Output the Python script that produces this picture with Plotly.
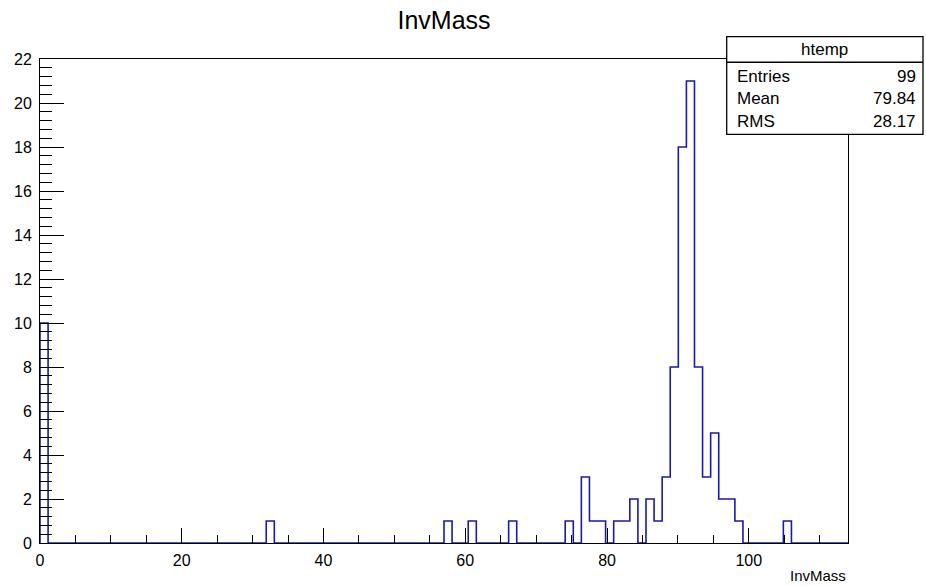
import plotly.graph_objects as go

# ---- data ----
x_min = 0.0
x_max = 114.0
n_bins = 100
counts = [
    10, 0, 0, 0, 0, 0, 0, 0, 0, 0,
    0, 0, 0, 0, 0, 0, 0, 0, 0, 0,
    0, 0, 0, 0, 0, 0, 0, 0, 1, 0,
    0, 0, 0, 0, 0, 0, 0, 0, 0, 0,
    0, 0, 0, 0, 0, 0, 0, 0, 0, 0,
    1, 0, 0, 1, 0, 0, 0, 0, 1, 0,
    0, 0, 0, 0, 0, 1, 0, 3, 1, 1,
    0, 1, 1, 2, 0, 2, 1, 3, 8, 18,
    21, 8, 3, 5, 2, 2, 1, 0, 0, 0,
    0, 0, 1, 0, 0, 0, 0, 0, 0, 0,
]
stats_name = "htemp"
stats_labels = ["Entries", "Mean", "RMS"]
stats_values = ["99", "79.84", "28.17"]
title_text = "InvMass"
xaxis_title = "InvMass"

# ---- build step outline ----
bw = (x_max - x_min) / n_bins
edges = [x_min + i * bw for i in range(n_bins + 1)]
xs = [edges[0]] + edges
ys = [0] + counts + [0]

FONT = "Liberation Sans, Arial, Helvetica, sans-serif"

fig = go.Figure()
fig.add_trace(go.Scatter(
    x=xs, y=ys, mode="lines", line=dict(shape="hv", color="#1a1aa6", width=1.6),
    hoverinfo="skip", showlegend=False,
))

W, H = 926, 586
L, R, T, B = 40, 848, 59, 543
pw, ph = R - L, B - T

def px(xp):
    return (xp - L) / pw

def py(yp):
    return (B - yp) / ph

fig.update_layout(
    width=W, height=H,
    margin=dict(l=L, r=W - R, t=T, b=H - B, autoexpand=False),
    paper_bgcolor="white", plot_bgcolor="white",
    font=dict(family=FONT, size=16, color="black"),
    title=dict(text=title_text, x=0.5, xref="paper",
               y=1 - 20 / H, yref="container", xanchor="center", yanchor="middle",
               font=dict(size=25, family=FONT, color="black")),
    showlegend=False,
)

fig.update_xaxes(
    range=[x_min, x_max], showgrid=False, zeroline=False, automargin=False,
    showline=True, linecolor="black", linewidth=1, mirror=True,
    ticks="inside", ticklen=15, tickwidth=1, tickcolor="black",
    tick0=0, dtick=20, ticklabelstandoff=3,
    minor=dict(ticks="inside", ticklen=8, tickwidth=1, tickcolor="black", dtick=5, showgrid=False),
    tickfont=dict(size=16, family=FONT, color="black"),
)
fig.update_yaxes(
    range=[0, 22], showgrid=False, zeroline=False, automargin=False,
    showline=True, linecolor="black", linewidth=1, mirror=True,
    ticks="inside", ticklen=24, tickwidth=1, tickcolor="black",
    tick0=0, dtick=2, ticklabelstandoff=4,
    minor=dict(ticks="inside", ticklen=12, tickwidth=1, tickcolor="black", dtick=0.4, showgrid=False),
    tickfont=dict(size=16, family=FONT, color="black"),
)

# stats box
bx0, bx1, by0, by1, bdiv = 726.7, 923, 36.7, 134.3, 62.3
fig.add_shape(type="rect", xref="paper", yref="paper",
              x0=px(bx0), x1=px(bx1), y0=py(by1), y1=py(by0),
              line=dict(color="black", width=1.3), fillcolor="white", layer="above")
fig.add_shape(type="line", xref="paper", yref="paper",
              x0=px(bx0), x1=px(bx1), y0=py(bdiv), y1=py(bdiv),
              line=dict(color="black", width=1.5), layer="above")

fig.add_annotation(text=stats_name, xref="paper", yref="paper",
                   x=px((bx0 + bx1) / 2), y=py(50), xanchor="center", yanchor="middle",
                   showarrow=False, font=dict(size=17, family=FONT, color="black"))
row_y = [76, 99, 122]
for lab, val, yy in zip(stats_labels, stats_values, row_y):
    fig.add_annotation(text=lab, xref="paper", yref="paper", x=px(735), y=py(yy),
                       xanchor="left", yanchor="middle", showarrow=False,
                       font=dict(size=17, family=FONT, color="black"))
    fig.add_annotation(text=val, xref="paper", yref="paper", x=px(918), y=py(yy),
                       xanchor="right", yanchor="middle", showarrow=False,
                       font=dict(size=17, family=FONT, color="black"))

# x axis title (ROOT style, right aligned below axis)
fig.add_annotation(text=xaxis_title, xref="paper", yref="paper", x=1.0, y=py(575),
                   xanchor="right", yanchor="middle", showarrow=False,
                   font=dict(size=15, family=FONT, color="black"))

fig.write_html("out.html", config={"displayModeBar": False},
               post_script="document.body.style.margin='0';document.body.style.padding='0';")
